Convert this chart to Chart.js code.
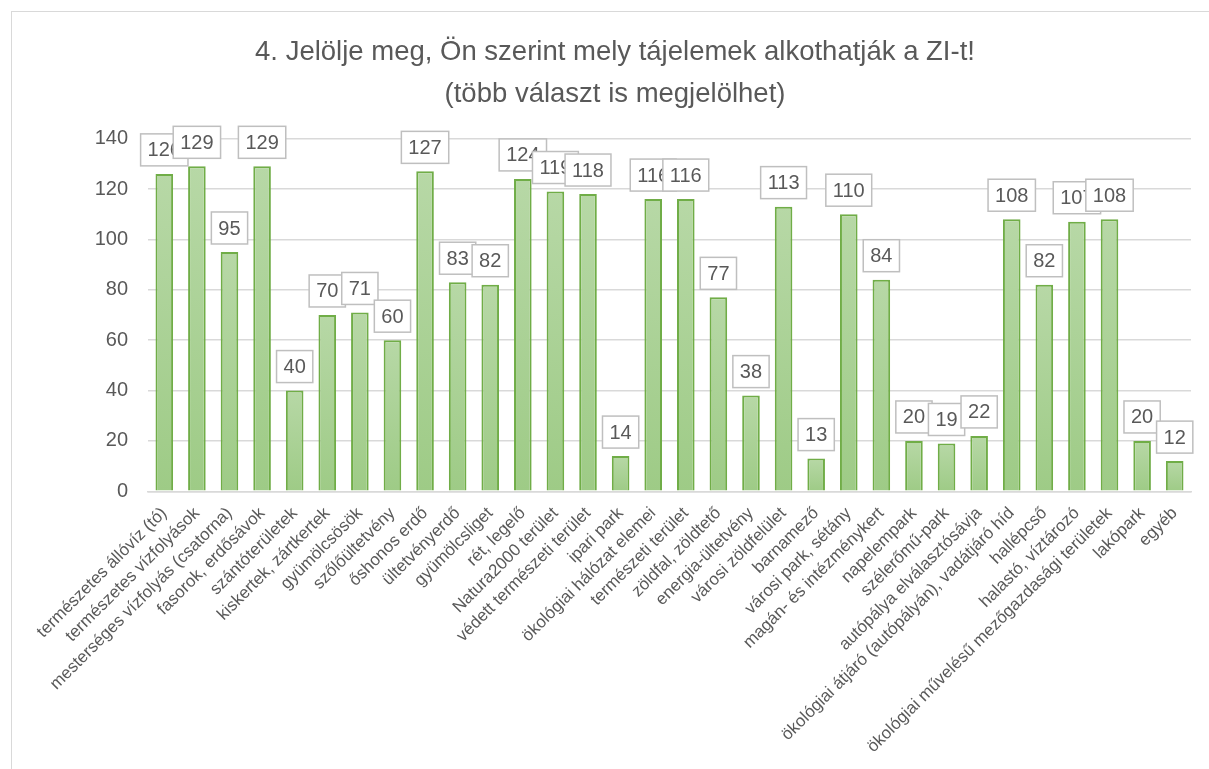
<!DOCTYPE html>
<html>
<head>
<meta charset="utf-8">
<script src="https://cdn.jsdelivr.net/npm/chart.js@4.4.1/dist/chart.umd.min.js"></script>
<style>
  html, body { margin: 0; padding: 0; background: #ffffff; }
  #wrap { position: relative; width: 1209px; height: 769px; overflow: hidden; }
  #frame { position: absolute; left: 11px; top: 11px; width: 1300px; height: 900px; border: 1px solid #d9d9d9; box-sizing: border-box; }
  canvas { position: absolute; left: 0; top: 0; }
</style>
</head>
<body>
<div id="wrap">
  <div id="frame"></div>
  <canvas id="c" width="1209" height="769"></canvas>
</div>
<script>
const titleLines = ["4. Jelölje meg, Ön szerint mely tájelemek alkothatják a ZI-t!", "(több választ is megjelölhet)"];

const categories = [
  "természetes állóvíz (tó)",
  "természetes vízfolyások",
  "mesterséges vízfolyás (csatorna)",
  "fasorok, erdősávok",
  "szántóterületek",
  "kiskertek, zártkertek",
  "gyümölcsösök",
  "szőlőültetvény",
  "őshonos erdő",
  "ültetvényerdő",
  "gyümölcsliget",
  "rét, legelő",
  "Natura2000 terület",
  "védett természeti terület",
  "ipari park",
  "ökológiai hálózat elemei",
  "természeti terület",
  "zöldfal, zöldtető",
  "energia-ültetvény",
  "városi zöldfelület",
  "barnamező",
  "városi park, sétány",
  "magán- és intézménykert",
  "napelempark",
  "szélerőmű-park",
  "autópálya elválasztósávja",
  "ökológiai átjáró (autópályán), vadátjáró híd",
  "hallépcső",
  "halastó, víztározó",
  "ökológiai művelésű mezőgazdasági területek",
  "lakópark",
  "egyéb"
];

const values = [126, 129, 95, 129, 40, 70, 71, 60, 127, 83, 82, 124, 119, 118, 14, 116, 116, 77, 38, 113, 13, 110, 84, 20, 19, 22, 108, 82, 107, 108, 20, 12];

const yTicks = [0, 20, 40, 60, 80, 100, 120, 140];

const FONT = "'Liberation Sans', Arial, sans-serif";
const TEXT = "#595959";

const labelBoxes = {
  id: 'labelBoxes',
  afterDatasetsDraw(chart) {
    const ctx = chart.ctx;
    const meta = chart.getDatasetMeta(0);
    ctx.save();
    ctx.font = "20px " + FONT;
    ctx.textAlign = "center";
    ctx.textBaseline = "middle";
    meta.data.forEach((bar, i) => {
      const txt = String(values[i]);
      const w = ctx.measureText(txt).width + 14;
      const h = 32;
      const x = bar.x - w / 2;
      const y = bar.y - 8 - h;
      ctx.fillStyle = "#ffffff";
      ctx.fillRect(x, y, w, h);
      ctx.strokeStyle = "#bfbfbf";
      ctx.lineWidth = 1.5;
      ctx.strokeRect(x, y, w, h);
      ctx.fillStyle = TEXT;
      ctx.fillText(txt, bar.x, y + h / 2 + 1);
    });
    ctx.restore();
  }
};

function barFill(context) {
  const chart = context.chart;
  const area = chart.chartArea;
  if (!area || context.type !== 'data') return '#a9d092';
  const ys = chart.scales.y;
  const top = ys.getPixelForValue(context.raw);
  const base = ys.getPixelForValue(0);
  if (!isFinite(top) || !isFinite(base) || base - top < 1) return '#a9d092';
  const g = chart.ctx.createLinearGradient(0, top, 0, base);
  g.addColorStop(0, '#b7d8a6');
  g.addColorStop(1, '#9ecb86');
  return g;
}

new Chart(document.getElementById('c'), {
  type: 'bar',
  data: {
    labels: categories,
    datasets: [{
      data: values,
      backgroundColor: barFill,
      borderColor: '#70ad47',
      borderWidth: 2,
      categoryPercentage: 1.0,
      barPercentage: 0.54
    }]
  },
  options: {
    responsive: false,
    animation: false,
    layout: { padding: { left: 39, right: 18, top: 14, bottom: 8 } },
    plugins: {
      legend: { display: false },
      tooltip: { enabled: false },
      title: {
        display: true,
        text: titleLines,
        color: TEXT,
        font: { family: FONT, size: 27.5, weight: 'normal', lineHeight: 1.52 },
        padding: { top: 18, bottom: 23 }
      }
    },
    scales: {
      y: {
        min: 0,
        max: 140,
        afterBuildTicks(axis) { axis.ticks = yTicks.map(v => ({ value: v })); },
        afterFit(axis) { axis.width = 109; },
        ticks: { color: TEXT, font: { family: FONT, size: 20 }, padding: 20 },
        grid: { color: '#d9d9d9', lineWidth: 1.5, drawTicks: false },
        border: { display: false }
      },
      x: {
        ticks: {
          color: TEXT,
          font: { family: FONT, size: 17 },
          minRotation: 45,
          maxRotation: 45,
          autoSkip: false,
          padding: 4
        },
        grid: { display: false },
        border: { display: true, color: '#d9d9d9', width: 1.5 }
      }
    }
  },
  plugins: [labelBoxes]
});
</script>
</body>
</html>
